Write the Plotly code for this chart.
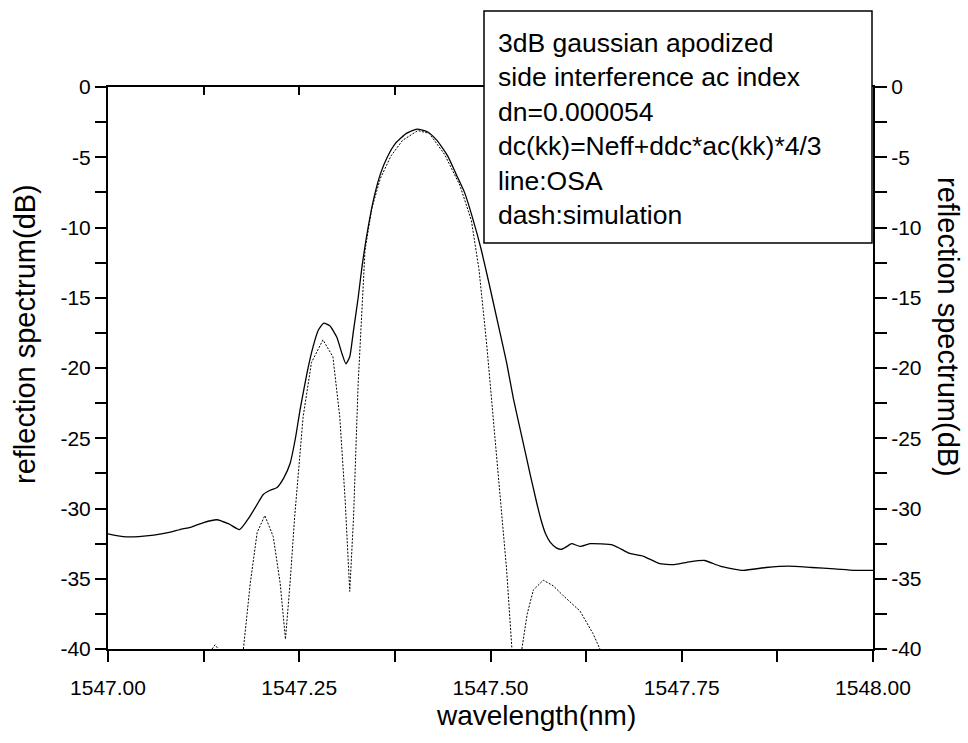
import plotly.graph_objects as go

# ---- data ----
osa_wl = [1547.000, 1547.020, 1547.040, 1547.060, 1547.080, 1547.094, 1547.110, 1547.125,
          1547.142, 1547.158, 1547.172, 1547.185, 1547.195, 1547.203, 1547.212, 1547.221,
          1547.230, 1547.238, 1547.245, 1547.251, 1547.260, 1547.268, 1547.275, 1547.282,
          1547.290, 1547.299, 1547.306, 1547.311, 1547.316, 1547.321, 1547.327, 1547.332,
          1547.340, 1547.348, 1547.356, 1547.365, 1547.376, 1547.390, 1547.404, 1547.418,
          1547.430, 1547.444, 1547.455, 1547.466, 1547.477, 1547.488, 1547.499, 1547.510,
          1547.521, 1547.530, 1547.541, 1547.552, 1547.560, 1547.566, 1547.572, 1547.578,
          1547.586, 1547.593, 1547.600, 1547.606, 1547.617, 1547.630, 1547.660, 1547.682,
          1547.700, 1547.720, 1547.740, 1547.760, 1547.780, 1547.800, 1547.830, 1547.860,
          1547.890, 1547.920, 1547.950, 1547.975, 1548.000]
osa_db = [-31.8, -32.0, -32.0, -31.9, -31.7, -31.5, -31.3, -31.0,
          -30.8, -31.1, -31.5, -30.6, -29.7, -29.0, -28.7, -28.5,
          -27.8, -26.8, -25.0, -23.0, -20.4, -18.5, -17.3, -16.8,
          -17.0, -17.8, -19.0, -19.7, -19.2, -17.3, -15.0, -12.8,
          -10.0, -7.8, -6.2, -5.0, -4.0, -3.3, -3.0, -3.2,
          -3.8, -4.9, -6.2, -7.5, -9.4, -11.6, -14.2, -16.9,
          -19.6, -22.2, -24.9, -27.6, -29.5, -30.8, -31.8, -32.4,
          -32.8, -32.9, -32.7, -32.5, -32.7, -32.5, -32.6, -33.2,
          -33.4, -33.9, -34.0, -33.8, -33.7, -34.1, -34.4, -34.2,
          -34.1, -34.2, -34.3, -34.4, -34.4]

sim_wl = [1547.136, 1547.140, 1547.144, None,
          1547.177, 1547.186, 1547.195, 1547.205, 1547.216, 1547.225, 1547.232,
          1547.238, 1547.244, 1547.255, 1547.266, 1547.281, 1547.294, 1547.303,
          1547.310, 1547.316, 1547.321, 1547.327, 1547.336, 1547.345, 1547.356,
          1547.370, 1547.385, 1547.405, 1547.420, 1547.440, 1547.460, 1547.475,
          1547.485, 1547.495, 1547.508, 1547.521, 1547.528, None,
          1547.541, 1547.548, 1547.556, 1547.569, 1547.582, 1547.595, 1547.617,
          1547.634, 1547.643]
sim_db = [-40.0, -39.7, -40.0, None,
          -40.0, -35.3, -31.7, -30.5, -32.0, -35.3, -39.3,
          -35.3, -30.6, -23.5, -19.6, -18.0, -19.2, -23.5,
          -29.4, -35.9, -30.6, -21.1, -11.6, -8.6, -6.5,
          -4.9, -3.8, -3.1, -3.3, -4.8, -7.0, -9.5,
          -13.0, -18.3, -26.3, -34.3, -40.0, None,
          -40.0, -37.5, -35.8, -35.1, -35.5, -36.2, -37.3,
          -38.9, -40.0]

x_ticks = [1547.00, 1547.25, 1547.50, 1547.75, 1548.00]
x_tick_labels = ["1547.00", "1547.25", "1547.50", "1547.75", "1548.00"]
y_ticks = [0, -5, -10, -15, -20, -25, -30, -35, -40]
y_tick_labels = ["0", "-5", "-10", "-15", "-20", "-25", "-30", "-35", "-40"]
legend_lines = ["3dB gaussian apodized", "side interference ac index", "dn=0.000054",
                "dc(kk)=Neff+ddc*ac(kk)*4/3", "line:OSA", "dash:simulation"]

FONT = "Liberation Sans, Arial, sans-serif"

fig = go.Figure()
fig.add_trace(go.Scatter(x=osa_wl, y=osa_db, mode="lines", name="OSA",
                         line=dict(color="black", width=1.3, shape="spline", smoothing=0.5)))
fig.add_trace(go.Scatter(x=sim_wl, y=sim_db, mode="lines", name="simulation",
                         line=dict(color="black", width=1, dash="2px,1.5px"),
                         connectgaps=False))
# helper trace so the mirrored axes are drawn
fig.add_trace(go.Scatter(x=[x_ticks[0]], y=[y_ticks[-1]], mode="markers",
                         marker=dict(opacity=0), xaxis="x2", yaxis="y2",
                         showlegend=False, hoverinfo="skip"))

axis_common = dict(showline=True, linecolor="black", linewidth=2, showgrid=False,
                   zeroline=False, tickcolor="black", tickwidth=2,
                   tickfont=dict(family=FONT, size=21, color="black"))

minor_x = [1547.125, 1547.375, 1547.625, 1547.875]

fig.update_layout(
    width=968, height=743,
    margin=dict(l=108, r=95, t=87, b=94),
    paper_bgcolor="white", plot_bgcolor="white",
    showlegend=False,
    font=dict(family=FONT, color="black"),
    xaxis=dict(range=[1547.0, 1548.0], tickvals=x_ticks, ticktext=x_tick_labels,
               ticks="outside", ticklen=11, ticklabelstandoff=8,
               minor=dict(tickvals=minor_x, ticks="outside", ticklen=11,
                          tickcolor="black", tickwidth=2),
               **axis_common),
    xaxis2=dict(range=[1547.0, 1548.0], overlaying="x", side="top",
                tickvals=x_ticks, ticks="inside", ticklen=8, showticklabels=False,
                minor=dict(tickvals=minor_x, ticks="inside", ticklen=8,
                           tickcolor="black", tickwidth=2),
                **axis_common),
    yaxis=dict(range=[-40, 0], tickvals=y_ticks, ticktext=y_tick_labels,
               ticks="outside", ticklen=11,
               minor=dict(dtick=2.5, tick0=0, ticks="outside", ticklen=11,
                          tickcolor="black", tickwidth=2),
               **axis_common),
    yaxis2=dict(range=[-40, 0], overlaying="y", side="right", anchor="x",
                tickvals=y_ticks, ticktext=y_tick_labels,
                ticks="outside", ticklen=12,
                minor=dict(dtick=2.5, tick0=0, ticks="outside", ticklen=12,
                           tickcolor="black", tickwidth=2),
                **axis_common),
)

# legend-like text box
fig.add_shape(type="rect", xref="paper", yref="paper",
              x0=(484 - 108) / 765, x1=(872 - 108) / 765,
              y0=(649 - 243) / 562, y1=(649 - 11) / 562,
              line=dict(color="black", width=1.5), fillcolor="white", layer="above")
fig.add_annotation(xref="paper", yref="paper", x=(496 - 108) / 765, y=(649 - 26) / 562,
                   xanchor="left", yanchor="top", align="left", showarrow=False,
                   text="<br>".join(legend_lines),
                   font=dict(family=FONT, size=26.5, color="black"))

# axis titles
fig.add_annotation(xref="paper", yref="paper", x=(536 - 108) / 765, y=(649 - 715) / 562,
                   xanchor="center", yanchor="middle", showarrow=False,
                   text="wavelength(nm)", font=dict(family=FONT, size=28, color="black"))
fig.add_annotation(xref="paper", yref="paper", x=(25 - 108) / 765, y=(649 - 334) / 562,
                   xanchor="center", yanchor="middle", showarrow=False, textangle=-90,
                   text="reflection spectrum(dB)", font=dict(family=FONT, size=29, color="black"))
fig.add_annotation(xref="paper", yref="paper", x=(948 - 108) / 765, y=(649 - 327) / 562,
                   xanchor="center", yanchor="middle", showarrow=False, textangle=90,
                   text="reflection spectrum(dB)", font=dict(family=FONT, size=29, color="black"))

fig.write_html("out.html")
